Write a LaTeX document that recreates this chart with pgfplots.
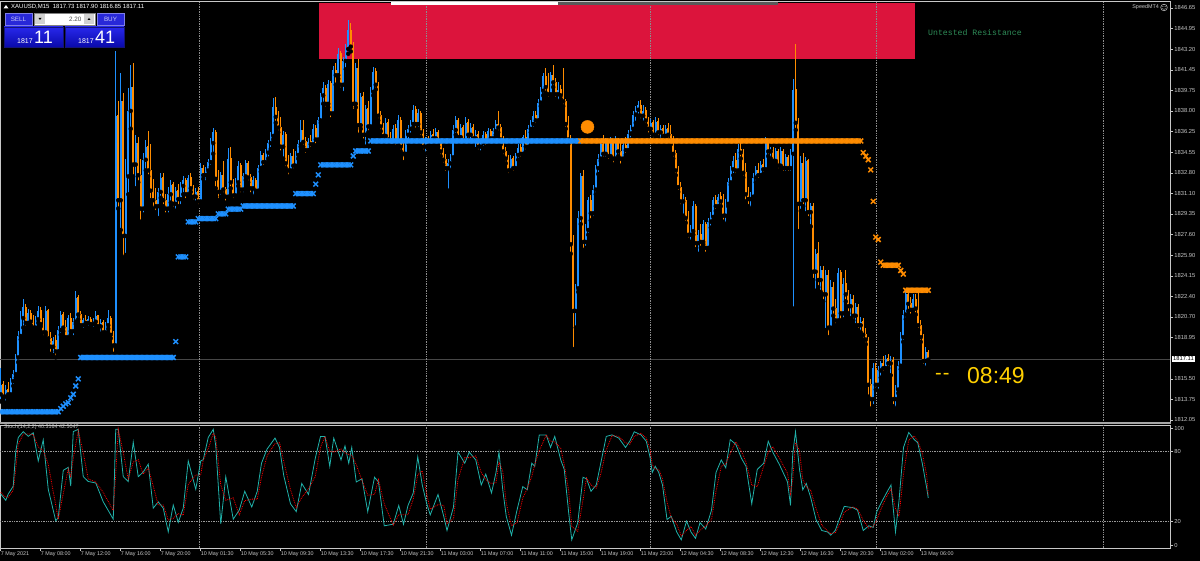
\documentclass[border=0pt]{standalone}
\usepackage{pgfplots}
\pgfplotsset{compat=1.18}
\usepackage{pgfplotstable}
\usepackage{fontspec}
\setmainfont{Liberation Sans}
\newfontfamily\monofont{Liberation Mono}
\definecolor{bull}{HTML}{1E90FF}
\definecolor{bear}{HTML}{FF8C00}
\definecolor{boxred}{HTML}{DC143C}
\definecolor{lbl}{HTML}{C8C8C8}
\definecolor{stochmain}{HTML}{20B2AA}
\definecolor{resgreen}{HTML}{2E8B57}
\definecolor{timegold}{HTML}{FFD000}
\definecolor{btnblue}{HTML}{2828D8}
\definecolor{pantop}{RGB}{40,40,235}
\definecolor{panbot}{RGB}{10,10,170}
\definecolor{panedge}{RGB}{20,20,120}
\newcommand\lblfont{\fontsize{5.8}{6}\selectfont}
% i = bar index (M15), o h l c = prices, m = trailing marker price
% (the price axis is drawn as price - 1800, labelled with the real prices)
\pgfplotstableread{
i o h l c m
0 1814.2 1816.4 1813.6 1815.0 1812.73
1 1815.0 1815.3 1813.8 1814.0 1812.73
2 1814.0 1815.0 1813.5 1814.6 1812.73
3 1814.6 1815.2 1813.9 1814.2 1812.73
4 1814.2 1815.6 1814.0 1815.3 1812.73
5 1815.3 1816.2 1814.9 1815.9 1812.73
6 1815.9 1817.6 1815.6 1817.3 1812.73
7 1817.3 1819.5 1816.9 1819.1 1812.73
8 1819.1 1821.2 1818.8 1820.6 1812.73
9 1820.6 1822.2 1819.8 1821.5 1812.73
10 1821.5 1821.8 1819.8 1820.2 1812.73
11 1820.2 1821.4 1819.9 1821.0 1812.73
12 1821.0 1821.3 1820.0 1820.3 1812.73
13 1820.3 1820.9 1819.5 1819.8 1812.73
14 1819.8 1820.8 1819.6 1820.5 1812.73
15 1820.5 1821.6 1820.2 1821.2 1812.73
16 1821.2 1821.5 1819.9 1820.1 1812.73
17 1820.1 1820.6 1819.0 1819.4 1812.73
18 1819.4 1821.6 1819.2 1821.2 1812.73
19 1821.2 1821.4 1818.6 1818.9 1812.73
20 1818.9 1819.4 1817.6 1818.2 1812.73
21 1818.2 1819.0 1817.5 1818.7 1812.73
22 1818.7 1819.2 1817.3 1817.8 1812.73
23 1817.8 1819.9 1817.5 1819.6 1812.73
24 1819.6 1821.2 1819.2 1820.9 1813.0
25 1820.9 1821.1 1819.5 1819.8 1813.2
26 1819.8 1820.4 1818.7 1819.0 1813.4
27 1819.0 1820.9 1818.8 1820.6 1813.5
28 1820.6 1821.0 1819.2 1819.5 1813.9
29 1819.5 1820.6 1819.0 1820.3 1814.2
30 1820.3 1822.9 1820.1 1822.3 1814.9
31 1822.3 1822.5 1820.5 1820.9 1815.5
32 1820.9 1821.2 1819.7 1820.0 1817.29
33 1820.0 1820.6 1819.6 1820.4 1817.29
34 1820.4 1820.9 1820.0 1820.2 1817.29
35 1820.2 1820.8 1819.8 1820.5 1817.29
36 1820.5 1820.7 1819.9 1820.1 1817.29
37 1820.1 1820.6 1819.7 1820.3 1817.29
38 1820.3 1821.2 1820.0 1820.8 1817.29
39 1820.8 1820.9 1819.6 1819.9 1817.29
40 1819.9 1820.5 1819.3 1820.2 1817.29
41 1820.2 1820.4 1819.1 1819.4 1817.29
42 1819.4 1820.3 1819.1 1820.0 1817.29
43 1820.0 1821.3 1819.7 1820.6 1817.29
44 1820.6 1820.8 1818.9 1819.2 1817.29
45 1819.2 1819.5 1817.6 1818.3 1817.29
46 1818.3 1843.0 1818.1 1837.6 1817.29
47 1837.6 1838.8 1829.8 1830.5 1817.29
48 1830.5 1841.2 1828.0 1838.8 1817.29
49 1838.8 1839.5 1825.7 1827.5 1817.29
50 1827.5 1834.0 1825.9 1832.5 1817.29
51 1832.5 1839.9 1831.0 1838.0 1817.29
52 1838.0 1841.9 1836.5 1840.0 1817.29
53 1840.0 1842.0 1832.5 1833.5 1817.29
54 1833.5 1836.0 1831.5 1835.3 1817.29
55 1835.3 1835.8 1832.0 1832.6 1817.29
56 1832.6 1834.0 1828.7 1829.8 1817.29
57 1829.8 1834.5 1829.3 1833.9 1817.29
58 1833.9 1835.6 1833.0 1835.0 1817.29
59 1835.0 1836.3 1832.5 1833.0 1817.29
60 1833.0 1835.2 1830.5 1831.3 1817.29
61 1831.3 1832.3 1829.8 1830.5 1817.29
62 1830.5 1831.5 1829.5 1830.0 1817.29
63 1830.0 1831.5 1829.0 1831.2 1817.29
64 1831.2 1832.8 1830.7 1832.4 1817.29
65 1832.4 1832.8 1830.0 1830.5 1817.29
66 1830.5 1831.0 1829.3 1829.8 1817.29
67 1829.8 1831.6 1829.3 1831.0 1817.29
68 1831.0 1832.2 1830.3 1831.8 1817.29
69 1831.8 1832.0 1829.8 1830.2 1817.29
70 1830.2 1831.6 1829.6 1831.3 1818.63
71 1831.3 1831.9 1830.0 1830.6 1825.74
72 1830.6 1832.0 1830.0 1831.7 1825.74
73 1831.7 1832.5 1831.0 1832.2 1825.74
74 1832.2 1832.4 1830.5 1831.0 1825.74
75 1831.0 1832.6 1830.7 1832.4 1828.68
76 1832.4 1832.8 1831.2 1831.5 1828.68
77 1831.5 1831.8 1830.4 1830.8 1828.68
78 1830.8 1831.5 1830.3 1831.2 1828.68
79 1831.2 1831.6 1830.0 1830.4 1828.96
80 1830.4 1833.6 1830.2 1833.2 1828.96
81 1833.2 1833.5 1832.3 1832.6 1828.96
82 1832.6 1833.3 1832.0 1833.0 1828.96
83 1833.0 1834.0 1832.7 1833.7 1828.96
84 1833.7 1835.7 1833.3 1835.3 1828.96
85 1835.3 1836.6 1834.4 1836.2 1828.96
86 1836.2 1836.4 1831.5 1832.3 1828.96
87 1832.3 1833.0 1830.5 1831.2 1829.35
88 1831.2 1832.9 1830.8 1832.6 1829.35
89 1832.6 1833.8 1831.0 1831.4 1829.35
90 1831.4 1831.6 1830.3 1830.8 1829.35
91 1830.8 1834.9 1830.6 1834.0 1829.75
92 1834.0 1835.0 1831.5 1832.0 1829.75
93 1832.0 1832.3 1830.5 1830.9 1829.75
94 1830.9 1832.4 1830.6 1832.0 1829.75
95 1832.0 1833.8 1831.7 1833.4 1829.75
96 1833.4 1833.6 1831.0 1831.4 1829.75
97 1831.4 1832.8 1831.0 1832.5 1830.02
98 1832.5 1833.9 1832.2 1833.6 1830.02
99 1833.6 1833.8 1832.0 1832.4 1830.02
100 1832.4 1832.7 1831.0 1831.5 1830.02
101 1831.5 1832.5 1830.8 1832.2 1830.02
102 1832.2 1832.4 1831.0 1831.3 1830.02
103 1831.3 1833.5 1831.0 1833.2 1830.02
104 1833.2 1834.6 1832.9 1834.3 1830.02
105 1834.3 1834.5 1833.3 1833.7 1830.02
106 1833.7 1834.8 1833.4 1834.5 1830.02
107 1834.5 1835.6 1834.0 1835.3 1830.02
108 1835.3 1836.2 1834.8 1835.9 1830.02
109 1835.9 1839.1 1835.6 1838.3 1830.02
110 1838.3 1839.2 1837.0 1837.5 1830.02
111 1837.5 1838.0 1836.2 1836.6 1830.02
112 1836.6 1837.5 1834.5 1835.0 1830.02
113 1835.0 1836.3 1834.0 1836.0 1830.02
114 1836.0 1836.2 1833.2 1833.6 1830.02
115 1833.6 1834.3 1832.5 1833.0 1830.02
116 1833.0 1834.5 1832.8 1834.2 1830.02
117 1834.2 1834.8 1833.0 1833.4 1830.02
118 1833.4 1834.6 1833.1 1834.3 1831.06
119 1834.3 1835.6 1834.0 1835.2 1831.06
120 1835.2 1837.2 1835.0 1836.4 1831.06
121 1836.4 1837.2 1835.0 1835.4 1831.06
122 1835.4 1835.8 1834.3 1834.7 1831.06
123 1834.7 1835.7 1834.4 1835.4 1831.06
124 1835.4 1836.0 1834.8 1835.2 1831.06
125 1835.2 1836.9 1834.9 1836.5 1831.06
126 1836.5 1836.8 1835.1 1835.6 1831.85
127 1835.6 1837.5 1835.3 1837.2 1832.63
128 1837.2 1839.5 1837.0 1839.3 1833.47
129 1839.3 1840.4 1838.6 1839.9 1833.47
130 1839.9 1840.2 1838.2 1838.6 1833.47
131 1838.6 1840.6 1838.3 1840.3 1833.47
132 1840.3 1840.5 1837.3 1837.8 1833.47
133 1837.8 1841.8 1837.5 1841.4 1833.47
134 1841.4 1842.0 1840.2 1841.0 1833.47
135 1841.0 1843.3 1840.7 1842.8 1833.47
136 1842.8 1843.0 1839.8 1840.2 1833.47
137 1840.2 1842.5 1839.5 1842.2 1833.47
138 1842.2 1843.6 1841.5 1843.2 1833.47
139 1843.2 1845.6 1842.8 1844.8 1833.47
140 1844.8 1845.4 1843.0 1843.4 1833.47
141 1843.4 1843.8 1838.0 1838.6 1834.22
142 1838.6 1842.0 1838.3 1841.6 1834.64
143 1841.6 1842.4 1836.0 1836.8 1834.64
144 1836.8 1839.5 1836.5 1839.2 1834.64
145 1839.2 1839.6 1835.5 1836.0 1834.64
146 1836.0 1838.5 1835.0 1838.2 1834.64
147 1838.2 1838.8 1836.2 1836.7 1834.64
148 1836.7 1840.0 1836.5 1839.6 1835.48
149 1839.6 1841.7 1839.3 1841.3 1835.48
150 1841.3 1841.6 1839.8 1840.2 1835.48
151 1840.2 1840.4 1837.2 1837.6 1835.48
152 1837.6 1838.0 1836.3 1836.7 1835.48
153 1836.7 1837.0 1835.5 1835.9 1835.48
154 1835.9 1837.4 1835.5 1837.0 1835.48
155 1837.0 1837.3 1835.2 1835.6 1835.48
156 1835.6 1836.2 1834.8 1835.1 1835.48
157 1835.1 1836.8 1834.9 1836.5 1835.48
158 1836.5 1836.9 1835.0 1835.4 1835.48
159 1835.4 1837.7 1835.1 1837.2 1835.48
160 1837.2 1837.5 1834.6 1835.0 1835.48
161 1835.0 1835.3 1833.7 1834.4 1835.48
162 1834.4 1836.4 1834.2 1836.0 1835.48
163 1836.0 1836.8 1835.3 1836.5 1835.48
164 1836.5 1837.2 1836.0 1836.9 1835.48
165 1836.9 1838.5 1836.6 1838.1 1835.48
166 1838.1 1838.4 1836.4 1836.9 1835.48
167 1836.9 1838.2 1836.5 1837.8 1835.48
168 1837.8 1838.0 1835.8 1836.2 1835.48
169 1836.2 1836.5 1834.6 1835.0 1835.48
170 1835.0 1835.8 1834.4 1835.4 1835.48
171 1835.4 1835.9 1834.8 1835.1 1835.48
172 1835.1 1836.3 1835.0 1836.0 1835.48
173 1836.0 1836.5 1835.4 1835.7 1835.48
174 1835.7 1836.6 1835.3 1836.2 1835.48
175 1836.2 1836.4 1835.0 1835.3 1835.48
176 1835.3 1835.6 1834.2 1834.6 1835.48
177 1834.6 1834.9 1833.5 1833.9 1835.48
178 1833.9 1834.4 1832.8 1833.2 1835.48
179 1833.2 1834.0 1831.3 1833.6 1835.48
180 1833.6 1834.4 1833.0 1834.1 1835.48
181 1834.1 1836.8 1833.9 1836.4 1835.48
182 1836.4 1837.6 1836.0 1837.2 1835.48
183 1837.2 1837.4 1835.4 1835.8 1835.48
184 1835.8 1836.9 1835.5 1836.6 1835.48
185 1836.6 1836.8 1835.2 1835.5 1835.48
186 1835.5 1837.5 1835.2 1837.0 1835.48
187 1837.0 1837.3 1835.6 1836.0 1835.48
188 1836.0 1837.0 1835.3 1836.6 1835.48
189 1836.6 1836.9 1835.4 1835.7 1835.48
190 1835.7 1836.4 1834.8 1836.0 1835.48
191 1836.0 1836.3 1834.6 1835.0 1835.48
192 1835.0 1835.5 1834.5 1835.3 1835.48
193 1835.3 1836.3 1834.9 1836.0 1835.48
194 1836.0 1836.2 1835.0 1835.4 1835.48
195 1835.4 1836.6 1835.2 1836.3 1835.48
196 1836.3 1836.5 1835.3 1835.7 1835.48
197 1835.7 1836.6 1835.4 1836.3 1835.48
198 1836.3 1837.2 1836.0 1836.9 1835.48
199 1836.9 1838.0 1836.2 1836.6 1835.48
200 1836.6 1836.9 1835.2 1835.6 1835.48
201 1835.6 1835.9 1834.2 1834.6 1835.48
202 1834.6 1835.0 1833.6 1834.0 1835.48
203 1834.0 1834.3 1832.6 1833.0 1835.48
204 1833.0 1834.3 1832.7 1834.0 1835.48
205 1834.0 1834.2 1832.8 1833.2 1835.48
206 1833.2 1834.5 1833.0 1834.3 1835.48
207 1834.3 1835.2 1833.9 1834.9 1835.48
208 1834.9 1835.2 1834.0 1834.4 1835.48
209 1834.4 1836.0 1834.2 1835.8 1835.48
210 1835.8 1836.4 1834.6 1835.0 1835.48
211 1835.0 1836.8 1834.8 1836.5 1835.48
212 1836.5 1837.2 1836.2 1836.9 1835.48
213 1836.9 1838.0 1836.5 1837.6 1835.48
214 1837.6 1838.0 1836.8 1837.2 1835.48
215 1837.2 1839.0 1837.0 1838.7 1835.48
216 1838.7 1840.0 1838.4 1839.7 1835.48
217 1839.7 1841.2 1839.3 1840.9 1835.48
218 1840.9 1841.6 1839.5 1840.0 1835.48
219 1840.0 1841.2 1839.0 1839.4 1835.48
220 1839.4 1841.3 1839.2 1841.0 1835.48
221 1841.0 1841.9 1840.0 1840.4 1835.48
222 1840.4 1840.8 1839.0 1839.4 1835.48
223 1839.4 1840.4 1838.8 1839.8 1835.48
224 1839.8 1840.2 1839.0 1839.3 1835.48
225 1839.3 1841.6 1838.4 1838.8 1835.48
226 1838.8 1839.0 1836.5 1836.9 1835.48
227 1836.9 1837.6 1835.2 1835.6 1835.48
228 1835.6 1836.0 1826.0 1826.8 1835.48
229 1826.8 1827.6 1818.0 1821.2 1835.48
230 1821.2 1823.5 1819.8 1823.1 1835.48
231 1823.1 1829.6 1822.8 1829.0 1835.48
232 1829.0 1832.8 1828.5 1832.5 1835.48
233 1832.5 1833.0 1826.3 1827.0 1835.48
234 1827.0 1828.5 1826.5 1828.0 1835.48
235 1828.0 1830.8 1827.6 1830.5 1835.48
236 1830.5 1830.9 1828.8 1829.4 1835.48
237 1829.4 1831.8 1829.0 1831.4 1835.48
238 1831.4 1833.5 1831.0 1833.2 1835.48
239 1833.2 1834.4 1832.7 1834.0 1835.48
240 1834.0 1835.6 1833.8 1835.2 1835.48
241 1835.2 1836.0 1834.0 1834.4 1835.48
242 1834.4 1835.7 1834.0 1835.3 1835.48
243 1835.3 1835.6 1833.8 1834.2 1835.48
244 1834.2 1835.8 1833.9 1835.4 1835.48
245 1835.4 1835.6 1833.5 1834.0 1835.48
246 1834.0 1835.9 1833.7 1835.5 1835.48
247 1835.5 1835.7 1834.2 1834.6 1835.48
248 1834.6 1835.5 1833.4 1834.0 1835.48
249 1834.0 1835.4 1833.8 1835.1 1835.48
250 1835.1 1835.8 1834.3 1834.7 1835.48
251 1834.7 1836.4 1834.4 1836.1 1835.48
252 1836.1 1836.8 1835.6 1836.5 1835.48
253 1836.5 1838.0 1836.2 1837.7 1835.48
254 1837.7 1838.4 1837.0 1838.1 1835.48
255 1838.1 1838.8 1837.6 1838.5 1835.48
256 1838.5 1838.9 1837.2 1837.6 1835.48
257 1837.6 1838.5 1837.0 1838.0 1835.48
258 1838.0 1838.3 1836.8 1837.2 1835.48
259 1837.2 1837.5 1836.0 1836.5 1835.48
260 1836.5 1837.3 1836.2 1837.0 1835.48
261 1837.0 1837.2 1835.6 1836.0 1835.48
262 1836.0 1837.5 1835.8 1837.1 1835.48
263 1837.1 1837.4 1835.8 1836.2 1835.48
264 1836.2 1836.8 1835.5 1836.5 1835.48
265 1836.5 1836.8 1835.5 1835.9 1835.48
266 1835.9 1836.8 1835.6 1836.5 1835.48
267 1836.5 1837.0 1835.6 1836.0 1835.48
268 1836.0 1836.8 1835.2 1835.5 1835.48
269 1835.5 1835.9 1834.0 1834.4 1835.48
270 1834.4 1834.7 1832.6 1833.0 1835.48
271 1833.0 1833.4 1831.2 1831.6 1835.48
272 1831.6 1832.0 1830.0 1830.4 1835.48
273 1830.4 1831.0 1829.2 1830.5 1835.48
274 1830.5 1830.8 1828.6 1829.0 1835.48
275 1829.0 1829.6 1827.2 1827.6 1835.48
276 1827.6 1828.4 1827.0 1827.9 1835.48
277 1827.9 1830.4 1827.6 1830.0 1835.48
278 1830.0 1830.2 1826.4 1826.9 1835.48
279 1826.9 1828.0 1826.0 1827.6 1835.48
280 1827.6 1828.5 1826.5 1827.0 1835.48
281 1827.0 1828.8 1826.8 1828.5 1835.48
282 1828.5 1828.7 1826.0 1826.5 1835.48
283 1826.5 1829.0 1826.3 1828.7 1835.48
284 1828.7 1829.5 1828.2 1829.1 1835.48
285 1829.1 1830.8 1828.8 1830.5 1835.48
286 1830.5 1830.9 1829.6 1830.0 1835.48
287 1830.0 1831.0 1829.8 1830.8 1835.48
288 1830.8 1831.2 1830.0 1830.4 1835.48
289 1830.4 1831.0 1828.7 1829.2 1835.48
290 1829.2 1830.6 1828.5 1830.2 1835.48
291 1830.2 1832.4 1830.0 1832.0 1835.48
292 1832.0 1833.4 1831.8 1833.1 1835.48
293 1833.1 1834.2 1832.6 1833.8 1835.48
294 1833.8 1834.5 1832.6 1833.0 1835.48
295 1833.0 1835.2 1832.8 1834.8 1835.48
296 1834.8 1835.4 1834.0 1834.5 1835.48
297 1834.5 1834.8 1832.4 1832.8 1835.48
298 1832.8 1833.6 1830.4 1831.0 1835.48
299 1831.0 1831.6 1830.0 1830.6 1835.48
300 1830.6 1831.2 1829.8 1830.8 1835.48
301 1830.8 1832.8 1830.6 1832.4 1835.48
302 1832.4 1833.4 1832.0 1833.0 1835.48
303 1833.0 1833.6 1832.2 1832.6 1835.48
304 1832.6 1833.8 1832.3 1833.5 1835.48
305 1833.5 1834.0 1832.7 1833.1 1835.48
306 1833.1 1835.8 1832.9 1835.4 1835.48
307 1835.4 1835.6 1834.2 1834.6 1835.48
308 1834.6 1835.0 1834.0 1834.7 1835.48
309 1834.7 1835.0 1833.5 1833.8 1835.48
310 1833.8 1834.9 1833.6 1834.6 1835.48
311 1834.6 1834.8 1833.0 1833.4 1835.48
312 1833.4 1835.0 1833.2 1834.6 1835.48
313 1834.6 1834.8 1832.8 1833.2 1835.48
314 1833.2 1834.4 1832.8 1834.1 1835.48
315 1834.1 1834.3 1832.8 1833.2 1835.48
316 1833.2 1834.8 1832.8 1834.4 1835.48
317 1834.4 1840.7 1821.4 1839.8 1835.48
318 1839.8 1843.6 1836.4 1837.0 1835.48
319 1837.0 1837.4 1827.9 1830.2 1835.48
320 1830.2 1834.2 1829.6 1833.6 1835.48
321 1833.6 1834.5 1830.0 1830.5 1835.48
322 1830.5 1834.1 1829.4 1833.8 1835.48
323 1833.8 1834.0 1829.0 1829.5 1835.48
324 1829.5 1830.3 1828.3 1830.0 1835.48
325 1830.0 1830.3 1823.8 1824.5 1835.48
326 1824.5 1826.4 1822.9 1826.0 1835.48
327 1826.0 1827.0 1823.2 1823.8 1835.48
328 1823.8 1825.0 1822.8 1824.6 1835.48
329 1824.6 1825.0 1822.0 1822.6 1835.48
330 1822.6 1824.6 1819.6 1824.2 1835.48
331 1824.2 1824.6 1819.0 1819.8 1835.48
332 1819.8 1823.8 1819.6 1823.2 1835.48
333 1823.2 1823.6 1820.8 1821.4 1835.48
334 1821.4 1822.2 1820.0 1820.4 1835.48
335 1820.4 1824.8 1820.2 1824.4 1835.48
336 1824.4 1824.6 1820.4 1821.0 1835.48
337 1821.0 1824.0 1820.5 1823.5 1835.48
338 1823.5 1824.6 1822.0 1822.6 1835.48
339 1822.6 1823.0 1821.0 1821.6 1835.48
340 1821.6 1822.6 1820.6 1822.2 1835.48
341 1822.2 1822.5 1820.4 1820.8 1835.48
342 1820.8 1821.9 1820.0 1821.5 1835.48
343 1821.5 1821.8 1819.6 1820.0 1835.48
344 1820.0 1820.7 1819.4 1820.3 1835.48
345 1820.3 1820.6 1818.8 1819.2 1834.5
346 1819.2 1819.8 1818.4 1818.8 1834.2
347 1818.8 1819.0 1814.0 1815.0 1833.9
348 1815.0 1815.5 1813.0 1813.8 1833.05
349 1813.8 1816.8 1813.2 1816.4 1830.4
350 1816.4 1816.8 1814.6 1815.0 1827.4
351 1815.0 1816.6 1814.5 1816.2 1827.2
352 1816.2 1817.0 1815.6 1816.8 1825.3
353 1816.8 1817.4 1816.0 1816.4 1825.04
354 1816.4 1817.5 1816.2 1817.2 1825.04
355 1817.2 1817.6 1816.4 1816.8 1825.04
356 1816.8 1817.4 1815.8 1817.0 1825.04
357 1817.0 1817.3 1813.2 1813.8 1825.04
358 1813.8 1815.0 1813.0 1814.6 1825.04
359 1814.6 1817.0 1814.3 1816.6 1825.04
360 1816.6 1819.4 1816.3 1819.0 1824.6
361 1819.0 1821.3 1818.6 1820.9 1824.3
362 1820.9 1822.9 1820.5 1822.6 1822.94
363 1822.6 1822.9 1821.2 1821.8 1822.94
364 1821.8 1822.4 1820.8 1821.3 1822.94
365 1821.3 1822.6 1821.0 1822.2 1822.94
366 1822.2 1822.6 1820.9 1821.4 1822.94
367 1821.4 1822.9 1819.6 1820.0 1822.94
368 1820.0 1820.4 1818.6 1819.0 1822.94
369 1819.0 1819.3 1816.6 1817.0 1822.94
370 1817.0 1818.2 1816.4 1817.73 1822.94
371 1817.73 1817.90 1816.85 1817.11 1822.94
}\candles
% stochastic (14,2,2): i = bar index, m = %K, s = %D
\pgfplotstableread{
i m s
0 43.7 45
2 38.3 41
3 43.7 41
5 50.4 47
6 80 65
7 92 86
9 97 95
11 93 95
13 96 94.5
15 71.9 84
17 90 81
19 47.7 69
22 20.8 34
23 23.5 22
25 63.9 44
27 66.5 65
28 50.4 58
29 97 74
31 99 98
33 58.5 79
35 54.4 56.5
38 53.1 54
41 37 45
45 22.2 29.6
46 99 60.6
47 99 99
49 58.5 79
51 54.4 56.5
53 88 71
55 58.5 73
57 62.5 60.5
59 69.2 66
61 31.6 50.4
63 37 34.3
65 31.6 34.3
67 11.4 21.5
69 34.3 22.9
71 19.5 27
73 31.6 25.6
75 72 52
78 47.7 60
80 72 60
81 73 72.5
83 92 82.5
85 99 95.5
86 85 92
88 18.1 51.5
90 58.5 38.3
93 22.2 40.4
95.4 29.9 26
97.6 46 38
100.4 32.6 39.3
102.6 46 39.3
104.3 70 58
106.5 82 76
109.7 91.5 86.8
111.5 83.5 87.5
113.2 59.4 71.5
115.9 35.3 47.4
118.2 28.6 32
120.4 52.7 40.7
123.1 43.3 48
125.8 74.1 58.7
127.9 92.9 83.5
129.7 92.9 92.9
131.6 67.4 80.2
133.2 91.5 79.5
136.1 72.8 82.2
137.7 84.8 78.8
139.2 70 77.4
140.4 83.5 76.8
142.2 54 68.8
144.5 56.7 55.4
146.8 28.6 42.7
149.5 58 43.3
151.1 54 56
153.4 16.5 35.3
157 17.9 17.2
159.2 33.9 25.9
161.1 17.9 25.9
162.9 33.9 25.9
165 44.6 39.3
166.8 75.4 60
168.6 51.4 63.4
170.4 35.3 43.4
171.8 25.9 30.6
174.9 43.3 34.6
177.2 24.6 34
178.5 12.5 18.6
181.1 32.6 22.6
182.9 79.5 56
185.6 70 74.8
187.4 79.5 74.8
190 72.8 76.2
192.2 51.4 62.1
194 60.7 56
196.3 44.6 52.7
198.1 62.1 53.4
199.3 79.5 70.8
200.8 47.3 63.4
202.2 24.6 36
204.3 8.5 16.6
206.5 29.9 19.2
208.8 50 40
210.6 47.3 48.7
212.4 70 58.7
213.6 67.4 68.7
215.4 94.2 80.8
218.2 94.2 94.2
219.9 83.5 88.9
221.6 92.9 88.2
224 72.8 82.9
225.4 64.7 68.8
227.2 27.2 46
228.4 4.5 15.9
230.8 19.2 11.9
232.9 58 38.6
234.3 56.7 57.4
236.1 46 51.4
238.2 51.4 48.7
240 70 60.7
242.2 92.9 81.5
244.5 94.2 93.6
247.2 91.5 92.9
249.9 83.5 87.5
251.6 88.8 86.2
253.4 96.9 92.9
256.1 94.2 95.6
258.2 88.8 91.5
259.7 75.4 82.1
260.6 62.1 68.8
261.8 67.4 64.8
263.2 62.1 64.8
264.7 51.4 56.8
266.5 21.9 36.7
268.2 24.6 23.3
270.4 11.2 17.9
272.2 4.5 7.9
274.3 20.5 12.5
276.1 11.2 15.9
277.9 5.8 8.5
279.7 19.2 12.5
282 13.8 16.5
284.3 29.9 21.9
286.1 62.1 46
288.2 72.8 67.4
290 66.1 69.5
291.8 90.2 78.2
294 86.2 88.2
296.3 74.1 80.2
298.1 67.4 70.8
300.4 35.3 51.4
302.6 64.7 50
305.2 70 67.4
307 88.8 79.4
308.8 79.5 84.2
311.5 68.7 74.1
314.7 54 61.4
315.9 33.9 44
316.8 78.1 56
317.9 96.9 87.5
319.5 64.7 80.8
320.8 47.3 56
322.2 52.7 50
324 40.6 46.7
326.1 21.9 31.3
328.4 12.5 17.2
330.8 11.2 11.9
332 8.5 9.9
333.8 12.5 10.5
335.6 23.2 17.9
337.4 33.1 28.2
340.9 32 32.6
342.7 29.9 31
345 12.5 21.2
347.2 16.5 14.5
349 15.2 15.9
350.4 28.6 21.9
352.6 37.9 33.3
354.3 44.6 41.3
356.1 51.4 48
357.9 11.2 31.3
359.3 37.9 24.6
361.1 83.5 60.7
363.2 96.3 89.9
365.4 90.2 93.3
366.8 87.5 88.9
368.6 70 78.8
370.4 48.7 59.4
371 40.3164 42.5047
}\stoch
\begin{document}
\begin{tikzpicture}[x=1pt,y=1pt]
\useasboundingbox (0,0) rectangle (1200,561);
\fill[black] (0,0) rectangle (1200,561);
% ---------------- main price panel (y = price - 1800) ----------------
\begin{axis}[
  at={(1,116)}, anchor=south west,
  width=1170pt, height=421pt, scale only axis,
  xmin=-0.2, xmax=467.8, ymin=11.80, ymax=47.16,
  axis line style={draw=lbl, line width=0.8pt},
  xtick=\empty,
  ytick pos=right, yticklabel pos=right,
  ytick={46.65,44.95,43.20,41.45,39.75,38.00,36.25,34.55,32.80,31.10,29.35,27.60,25.90,24.15,22.40,20.70,18.95,15.50,13.75,12.05},
  yticklabels={1846.65,1844.95,1843.20,1841.45,1839.75,1838.00,1836.25,1834.55,1832.80,1831.10,1829.35,1827.60,1825.90,1824.15,1822.40,1820.70,1818.95,1815.50,1813.75,1812.05},
  tick align=outside, major tick length=3pt,
  ytick style={draw=lbl, line width=0.6pt},
  yticklabel style={font=\lblfont, text=lbl, anchor=west, inner sep=1pt},
]
\fill[boxred] (axis cs:127.4,42.37) rectangle (axis cs:365.8,47.08);
\draw[white!28!black, line width=1pt] (axis cs:-0.2,17.11) -- (axis cs:467.8,17.11);
\pgfplotsinvokeforeach{79.4,170.2,259.8,350.2,441}{
  \draw[white!55!black, densely dotted, line width=0.7pt] (axis cs:#1,11.8) -- (axis cs:#1,47.2);
}
% wicks (bull: close above open; bear: otherwise)
\addplot[only marks, mark=none, forget plot,
  restrict expr to domain={\thisrow{c}-\thisrow{o}}{0.001:1000},
  error bars/.cd, y dir=plus, y explicit, error mark=none,
  error bar style={draw=bull, solid, line width=0.8pt}]
  table[x=i, y expr={\thisrow{l}-1800}, y error expr={\thisrow{h}-\thisrow{l}}] {\candles};
\addplot[only marks, mark=none, forget plot,
  restrict expr to domain={\thisrow{c}-\thisrow{o}}{-1000:0},
  error bars/.cd, y dir=plus, y explicit, error mark=none,
  error bar style={draw=bear, solid, line width=0.8pt}]
  table[x=i, y expr={\thisrow{l}-1800}, y error expr={\thisrow{h}-\thisrow{l}}] {\candles};
% bodies
\addplot[only marks, mark=none, forget plot,
  restrict expr to domain={\thisrow{c}-\thisrow{o}}{0.001:1000},
  error bars/.cd, y dir=plus, y explicit, error mark=none,
  error bar style={draw=bull, solid, line width=1.8pt}]
  table[x=i, y expr={\thisrow{o}-1800}, y error expr={\thisrow{c}-\thisrow{o}}] {\candles};
\addplot[only marks, mark=none, forget plot,
  restrict expr to domain={\thisrow{c}-\thisrow{o}}{-1000:0},
  error bars/.cd, y dir=plus, y explicit, error mark=none,
  error bar style={draw=bear, solid, line width=1.8pt}]
  table[x=i, y expr={\thisrow{c}-1800}, y error expr={\thisrow{o}-\thisrow{c}+0.04}] {\candles};
% trailing markers
\addplot[only marks, mark=x, mark size=3.4pt, color=bull, mark options={line width=1.5pt},
  restrict x to domain=-1:231.5] table[x=i, y expr={\thisrow{m}-1800}] {\candles};
\addplot[only marks, mark=x, mark size=3.4pt, color=bear, mark options={line width=1.5pt},
  restrict x to domain=231.5:400] table[x=i, y expr={\thisrow{m}-1800}] {\candles};
\addplot[only marks, mark=*, mark size=6.5pt, color=bear] coordinates {(234.7,36.66)};
\end{axis}
% ---------------- stochastic panel ----------------
\begin{axis}[
  at={(1,11)}, anchor=south west,
  width=1170pt, height=123pt, scale only axis,
  xmin=-0.2, xmax=467.8, ymin=-2.56, ymax=102.56,
  axis line style={draw=lbl, line width=0.8pt},
  xtick={0,16,...,368},
  xticklabels={7 May 2021,7 May 08:00,7 May 12:00,7 May 16:00,7 May 20:00,10 May 01:30,10 May 05:30,10 May 09:30,10 May 13:30,10 May 17:30,10 May 21:30,11 May 03:00,11 May 07:00,11 May 11:00,11 May 15:00,11 May 19:00,11 May 23:00,12 May 04:30,12 May 08:30,12 May 12:30,12 May 16:30,12 May 20:30,13 May 02:00,13 May 06:00},
  xtick pos=left, xticklabel pos=left,
  ytick pos=right, yticklabel pos=right,
  ytick={0,20,80,100}, yticklabels={0,20,80,100},
  tick align=outside, major tick length=3pt,
  tick style={draw=lbl, line width=0.6pt},
  xticklabel style={font=\fontsize{5.4}{6}\selectfont, text=lbl, anchor=north west, inner sep=0.5pt, xshift=-0.5pt},
  yticklabel style={font=\lblfont, text=lbl, anchor=west, inner sep=1pt},
]
\draw[white!60!black, densely dotted, line width=0.7pt] (axis cs:-0.2,80) -- (axis cs:467.8,80);
\draw[white!60!black, densely dotted, line width=0.7pt] (axis cs:-0.2,20) -- (axis cs:467.8,20);
\pgfplotsinvokeforeach{79.4,170.2,259.8,350.2,441}{
  \draw[white!55!black, densely dotted, line width=0.7pt] (axis cs:#1,-2.6) -- (axis cs:#1,102.6);
}
\addplot[stochmain, line width=0.8pt] table[x=i, y=m] {\stoch};
\addplot[red, densely dotted, line width=0.8pt] table[x=i, y=s] {\stoch};
\end{axis}
\draw[white!65!black, line width=2.5pt] (0,138) -- (1171,138);
% ---------------- overlays ----------------
\fill[white] (391,556) rectangle (558,559);
\fill[white!35!black] (558,556) rectangle (778,559);
\fill[white] (3.5,552.5) -- (8.5,552.5) -- (6,556) -- cycle;
\node[anchor=west, inner sep=0pt, text=white, font=\fontsize{6}{6}\selectfont] at (11,554.3) {XAUUSD,M15\ \ 1817.73 1817.90 1816.85 1817.11};
\node[anchor=east, inner sep=0pt, text=lbl, font=\fontsize{5.4}{6}\selectfont] at (1159,553.5) {SpeedMT4};
\draw[lbl, line width=0.5pt] (1164,553.5) circle (3.3);
\fill[lbl] (1162.8,554.5) circle (0.5) (1165.2,554.5) circle (0.5);
\draw[lbl, line width=0.4pt] (1162.3,552.5) .. controls (1163.2,551.3) and (1164.8,551.3) .. (1165.7,552.5);
\fill[btnblue] (5,536) rectangle (32,548);
\draw[draw=white!40!btnblue, line width=0.6pt] (5,536) rectangle (32,548);
\node[text=white!75!btnblue, font=\fontsize{6.3}{7}\selectfont] at (18.5,542) {SELL};
\fill[white] (34,536) rectangle (95,548);
\draw[draw=white!50!black, line width=0.6pt] (34,536) rectangle (95,548);
\fill[white!82!black] (35,537) rectangle (45,547);
\fill[white!82!black] (84,537) rectangle (94,547);
\fill[black] (38.5,543) -- (41.5,543) -- (40,541) -- cycle;
\fill[black] (87.5,541) -- (90.5,541) -- (89,543) -- cycle;
\node[anchor=east, inner sep=0pt, text=black!70, font=\fontsize{6.3}{7}\selectfont] at (81.5,542) {2.20};
\fill[btnblue] (97,536) rectangle (124,548);
\draw[draw=white!40!btnblue, line width=0.6pt] (97,536) rectangle (124,548);
\node[text=white!75!btnblue, font=\fontsize{6.3}{7}\selectfont] at (110.5,542) {BUY};
\shade[top color=pantop, bottom color=panbot] (4,514) rectangle (63,534);
\shade[top color=pantop, bottom color=panbot] (65,514) rectangle (124,534);
\draw[draw=panedge, line width=0.6pt] (4,514) rectangle (63,534) (65,514) rectangle (124,534);
\node[anchor=base west, inner sep=0pt, text=white, font=\fontsize{7}{7}\selectfont] at (17,517.5) {1817};
\node[anchor=base west, inner sep=0pt, text=white, font=\fontsize{18}{18}\selectfont] at (34,517) {11};
\node[anchor=base west, inner sep=0pt, text=white, font=\fontsize{7}{7}\selectfont] at (78,517.5) {1817};
\node[anchor=base west, inner sep=0pt, text=white, font=\fontsize{18}{18}\selectfont] at (95,517) {41};
\node[anchor=west, inner sep=0pt, text=resgreen, font=\monofont\fontsize{8.2}{9}\selectfont] at (928,528) {Untested Resistance};
\node[anchor=west, fill=white, text=black, inner sep=1pt, font=\lblfont] at (1172,202) {1817.11};
\node[anchor=west, inner sep=0pt, text=timegold, font=\fontsize{20}{20}\selectfont] at (935,185) {-\kern1pt-};
\node[anchor=west, inner sep=0pt, text=timegold, font=\fontsize{23}{23}\selectfont] at (967,185) {08:49};
\node[anchor=west, inner sep=0pt, text=lbl, font=\fontsize{5.4}{6}\selectfont] at (4,133.5) {Stoch(14,2,2) 40.3164 42.5047};
\end{tikzpicture}
\end{document}
